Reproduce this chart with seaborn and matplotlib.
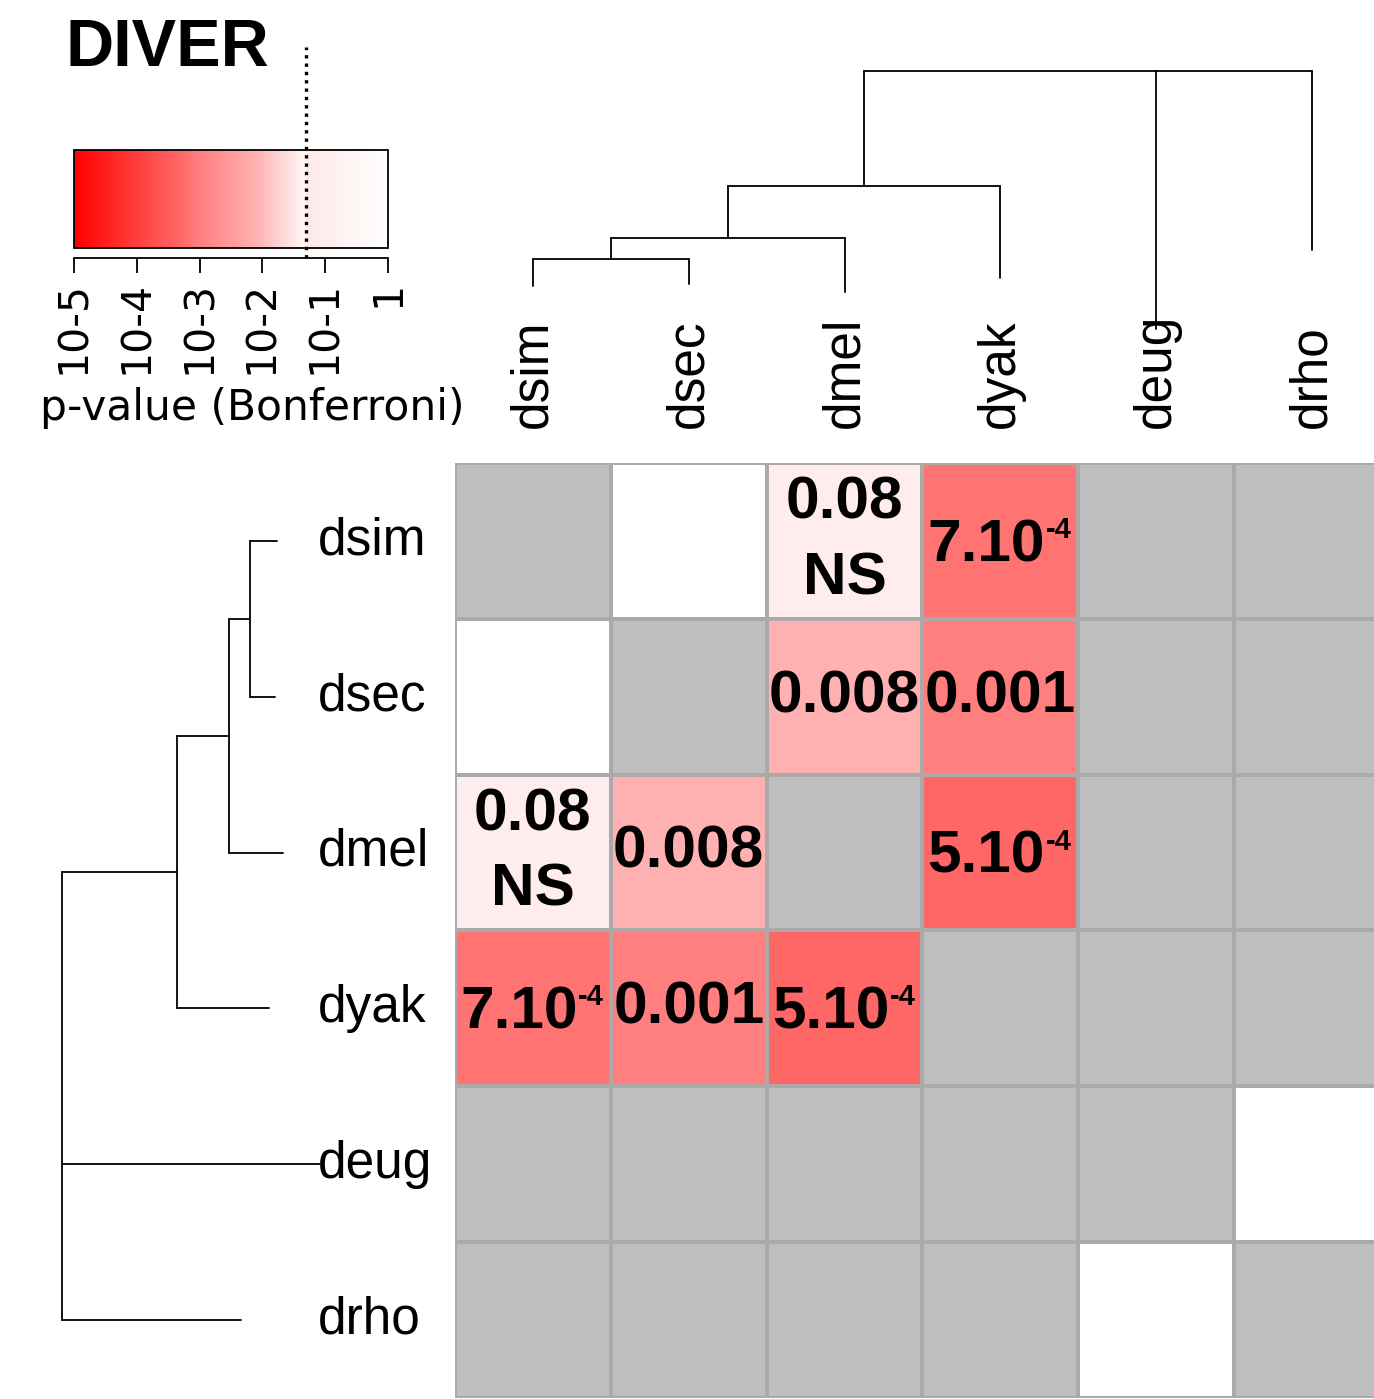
import numpy as np
import matplotlib
matplotlib.use('Agg')
import matplotlib.pyplot as plt
import matplotlib.transforms as mtransforms
from matplotlib.colors import LinearSegmentedColormap, ListedColormap
import seaborn as sns

# ── ข้อมูล ─────────────────────────────────────────────
species = ['dsim', 'dsec', 'dmel', 'dyak', 'deug', 'drho']

nan = np.nan
# nan = ไม่ได้ทดสอบ (สีเทา), 1.0 = ช่องว่างสีขาว
pvals = np.array([
    [nan,  1.0,   0.08,  7e-4, nan, nan],
    [1.0,  nan,   0.008, 0.001, nan, nan],
    [0.08, 0.008, nan,   5e-4, nan, nan],
    [7e-4, 0.001, 5e-4,  nan,  nan, nan],
    [nan,  nan,   nan,   nan,  nan, 1.0],
    [nan,  nan,   nan,   nan,  1.0, nan],
])
cell_text = np.array([
    ['', '', '0.08\nNS', '7.10', '', ''],
    ['', '', '0.008', '0.001', '', ''],
    ['0.08\nNS', '0.008', '', '5.10', '', ''],
    ['7.10', '0.001', '5.10', '', '', ''],
    ['', '', '', '', '', ''],
    ['', '', '', '', '', ''],
])
cell_exp = np.array([
    ['', '', '', '-4', '', ''],
    ['', '', '', '', '', ''],
    ['', '', '', '-4', '', ''],
    ['-4', '', '-4', '', '', ''],
    ['', '', '', '', '', ''],
    ['', '', '', '', '', ''],
])

# dendrogram: (child a, child b, depth from root); leaves 0-5, internal 6..
merges = [(0, 1, 3.76), (6, 2, 3.35), (7, 3, 2.29)]
root_children = [8, 4, 5]
leaf_depth = [4.31, 4.26, 4.43, 4.14, 5.15, 3.58]

cbar_ticks = [-5, -4, -3, -2, -1, 0]
cbar_ticklabels = ['10-5', '10-4', '10-3', '10-2', '10-1', '1']
alpha_cut = 0.05

# ── style ──────────────────────────────────────────────
sns.set_style('white')
plt.rcParams['font.family'] = ['Liberation Sans', 'DejaVu Sans']
plt.rcParams['text.color'] = 'black'
plt.rcParams['xtick.color'] = 'black'
plt.rcParams['ytick.color'] = 'black'
plt.rcParams['axes.labelcolor'] = 'black'

W, H = 1374, 1399
fig = plt.figure(figsize=(W / 100, H / 100), dpi=100)


def px_axes(x0, y0, x1, y1):
    return fig.add_axes([x0 / W, 1 - y1 / H, (x1 - x0) / W, (y1 - y0) / H])


red_white = LinearSegmentedColormap.from_list('pv', [
    (0.0, (1, 0, 0)),
    (0.34, (1, 104 / 255, 104 / 255)),
    (0.40, (1, 127 / 255, 127 / 255)),
    (0.58, (1, 176 / 255, 176 / 255)),
    (0.736, (1, 248 / 255, 248 / 255)),
    (0.74, (1, 232 / 255, 232 / 255)),
    (1.0, (1, 1, 1)),
])

cell = 155.8
x_left, y_top = 455, 463
ax = px_axes(x_left, y_top, x_left + 6 * cell, y_top + 6 * cell)
cax = px_axes(74, 150, 388, 248)

grey_layer = np.where(np.isnan(pvals), 1.0, np.nan)
sns.heatmap(grey_layer, ax=ax, cmap=ListedColormap(['#bebebe']), cbar=False,
            linewidths=1.5, linecolor='#aaaaaa', xticklabels=species,
            yticklabels=species)
sns.heatmap(np.log10(pvals), ax=ax, cmap=red_white, vmin=-5, vmax=0,
            annot=cell_text, fmt='',
            annot_kws={'fontsize': 43.5, 'fontweight': 'bold', 'color': 'black'},
            linewidths=1.5, linecolor='#aaaaaa',
            xticklabels=species, yticklabels=species,
            cbar_ax=cax, cbar_kws={'orientation': 'horizontal'})

ax.xaxis.tick_top()
ax.tick_params(axis='x', length=0, pad=25, labelsize=37, labelrotation=90)
ax.tick_params(axis='y', length=0, pad=98.6, labelsize=37, labelrotation=0)
for t in ax.get_yticklabels():
    t.set_ha('left')

# ตัวยก (exponent) วางที่มุมขวาบนของข้อความหลัก
for t in list(ax.texts):
    t.set_linespacing(1.48)
    x, y = t.get_position()
    e = cell_exp[int(y)][int(x)]
    if e:
        t.set_position((x - 0.09, y + 0.03))
        ax.annotate(e, xy=(1, 1), xycoords=t, xytext=(0.5, 1.5),
                    textcoords='offset points', ha='left', va='top',
                    fontsize=21, fontweight='bold', color='black')

# ── colorbar ───────────────────────────────────────────
cbar = ax.collections[-1].colorbar
cbar.outline.set_edgecolor('black')
cbar.outline.set_linewidth(1.3)
cbar.set_ticks(cbar_ticks)
cbar.set_ticklabels(cbar_ticklabels)
cax.spines['bottom'].set_visible(True)
cax.spines['bottom'].set_position(('outward', 7))
cax.spines['bottom'].set_linewidth(1.3)
cax.spines['bottom'].set_color('black')
cax.tick_params(axis='x', direction='out', length=11, width=1.3, pad=6,
                labelsize=29.5, labelrotation=90, bottom=True, colors='black',
                labelfontfamily='DejaVu Sans')
cut = np.log10(alpha_cut)
cax.plot([cut, cut], [-0.1, 2.05], color='black', lw=2.4,
         linestyle=(0, (1, 1.5)), clip_on=False,
         transform=mtransforms.blended_transform_factory(cax.transData, cax.transAxes))

fig.text(252 / W, 1 - 387 / H, 'p-value (Bonferroni)', ha='center', va='top',
         fontsize=30.5, family='DejaVu Sans')
fig.text(65 / W, 1 - 18 / H, 'DIVER', ha='left', va='top', fontsize=48,
         fontweight='bold')


# ── dendrograms ────────────────────────────────────────
def draw_tree(dax, orient):
    pos = {i: i + 0.5 for i in range(len(species))}
    depth = {i: leaf_depth[i] for i in range(len(species))}
    segs = []
    node = len(species)
    for a, b, d in merges:
        pos[node] = (pos[a] + pos[b]) / 2
        segs.append(((pos[a], pos[b]), (d, d)))
        segs.append(((pos[a], pos[a]), (d, depth[a])))
        segs.append(((pos[b], pos[b]), (d, depth[b])))
        depth[node] = d
        node += 1
    xs = [pos[c] for c in root_children]
    segs.append(((min(xs), max(xs)), (0, 0)))
    for c in root_children:
        segs.append(((pos[c], pos[c]), (0, depth[c])))
    for p, d in segs:
        if orient == 'top':
            dax.plot(p, d, color='black', lw=1.3, clip_on=False)
        else:
            dax.plot(d, p, color='black', lw=1.3, clip_on=False)
    dax.axis('off')


top_ax = px_axes(x_left, 71, x_left + 6 * cell, 331)
top_ax.set_xlim(0, 6)
top_ax.set_ylim(5.2, 0)
draw_tree(top_ax, 'top')

left_ax = px_axes(62, y_top, 322, y_top + 6 * cell)
left_ax.set_xlim(0, 5.2)
left_ax.set_ylim(6, 0)
draw_tree(left_ax, 'left')

fig.savefig('out.png', dpi=100)
